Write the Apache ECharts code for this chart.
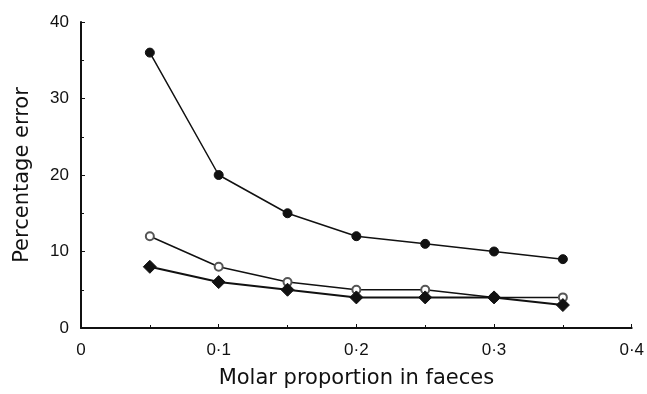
<!DOCTYPE html>
<html>
<head>
<meta charset="utf-8">
<script src="https://cdn.jsdelivr.net/npm/echarts@6/dist/echarts.min.js"></script>
<style>
  html, body { margin: 0; padding: 0; background: #fff; }
  #chart { width: 647px; height: 394px; }
</style>
</head>
<body>
<div id="chart"></div>
<script>
  // molar proportion in faeces
  const xValues = [0.05, 0.1, 0.15, 0.2, 0.25, 0.3, 0.35]
  const filledCircle = [36, 20, 15, 12, 11, 10, 9]
  const openCircle = [12, 8, 6, 5, 5, 4, 4]
  const diamond = [8, 6, 5, 4, 4, 4, 3]
  const xTickLabels = ['0', '0·1', '0·2', '0·3', '0·4']
  const yTickLabels = ['0', '10', '20', '30', '40']

  const font = 'Liberation Sans, Arial, sans-serif'
  const titleFont = 'DejaVu Sans, sans-serif'
  const pairs = arr => xValues.map((x, i) => [x, arr[i]])

  const chart = echarts.init(document.getElementById('chart'))
  chart.setOption({
    animation: false,
    grid: { left: 81, right: 12, top: 22, bottom: 61 },
    xAxis: {
      type: 'value',
      min: 0,
      max: 0.4,
      interval: 0.1,
      name: 'Molar proportion in faeces',
      nameLocation: 'middle',
      nameGap: 40,
      nameTextStyle: { color: '#111', fontSize: 21, fontFamily: titleFont },
      axisLine: { lineStyle: { color: '#111', width: 2 } },
      axisTick: { inside: true, length: 4, lineStyle: { color: '#111' } },
      minorTick: { show: true, splitNumber: 2, length: 3, lineStyle: { color: '#111' } },
      splitLine: { show: false },
      axisLabel: {
        color: '#111',
        fontSize: 17,
        fontFamily: font,
        margin: 14,
        formatter: v => xTickLabels[Math.round(v * 10)],
      },
    },
    yAxis: {
      type: 'value',
      min: 0,
      max: 40,
      interval: 10,
      name: 'Percentage error',
      nameLocation: 'middle',
      nameGap: 48,
      nameTextStyle: { color: '#111', fontSize: 21, fontFamily: titleFont },
      axisLine: { show: true, lineStyle: { color: '#111', width: 2 } },
      axisTick: { show: true, inside: true, length: 4, lineStyle: { color: '#111' } },
      minorTick: { show: true, splitNumber: 2, length: 3, lineStyle: { color: '#111' } },
      splitLine: { show: false },
      axisLabel: {
        color: '#111',
        fontSize: 17,
        fontFamily: font,
        margin: 12,
        formatter: v => yTickLabels[Math.round(v / 10)],
      },
    },
    series: [
      {
        type: 'line',
        data: pairs(filledCircle),
        symbol: 'circle',
        symbolSize: 9,
        lineStyle: { color: '#111', width: 1.5 },
        itemStyle: { color: '#111', borderColor: '#111' },
      },
      {
        type: 'line',
        data: pairs(openCircle),
        symbol: 'emptyCircle',
        symbolSize: 8,
        lineStyle: { color: '#111', width: 1.5 },
        itemStyle: { color: '#555', borderColor: '#555', borderWidth: 1 },
      },
      {
        type: 'line',
        data: pairs(diamond),
        symbol: 'diamond',
        symbolSize: 13,
        lineStyle: { color: '#111', width: 2 },
        itemStyle: { color: '#111', borderColor: '#111' },
      },
    ],
  })
</script>
</body>
</html>
